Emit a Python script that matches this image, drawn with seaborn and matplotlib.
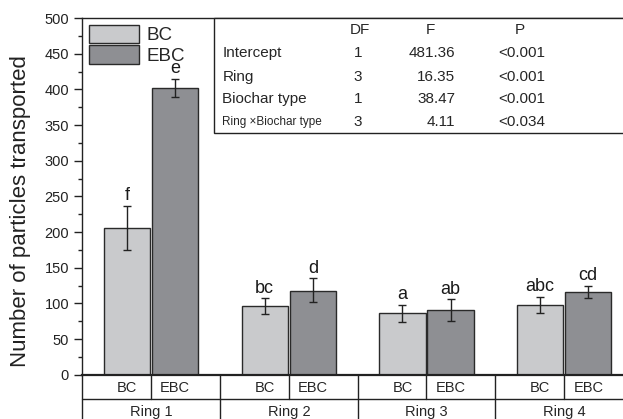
import numpy as np
import pandas as pd
import matplotlib
matplotlib.use("Agg")
import matplotlib.pyplot as plt
import matplotlib.transforms as mtransforms
from matplotlib.patches import Rectangle
from matplotlib.lines import Line2D
from matplotlib.ticker import MultipleLocator
import seaborn as sns

# ---------------- data ----------------
rings = ["Ring 1", "Ring 2", "Ring 3", "Ring 4"]
types = ["BC", "EBC"]
bc_mean = [205, 96, 86, 98]
ebc_mean = [402, 118, 91, 116]
bc_low = [175, 85, 74, 86]
bc_high = [237, 107, 98, 109]
ebc_low = [389, 102, 75, 107]
ebc_high = [415, 135, 106, 125]
bc_letters = ["f", "bc", "a", "abc"]
ebc_letters = ["e", "d", "ab", "cd"]

anova_terms = ["Intercept", "Ring", "Biochar type", "Ring \u00d7Biochar type"]
anova_df = ["1", "3", "1", "3"]
anova_f = ["481.36", "16.35", "38.47", "4.11"]
anova_p = ["<0.001", "<0.001", "<0.001", "<0.034"]

ylabel = "Number of particles transported"
yticks = [0, 50, 100, 150, 200, 250, 300, 350, 400, 450, 500]

# ---------------- style ----------------
sns.set_style("ticks")
plt.rcParams["font.family"] = ["Liberation Sans", "DejaVu Sans"]
plt.rcParams["axes.edgecolor"] = "#222222"

df = pd.DataFrame({
    "Ring": rings * 2,
    "Type": ["BC"] * 4 + ["EBC"] * 4,
    "Value": bc_mean + ebc_mean,
    "Low": bc_low + ebc_low,
    "High": bc_high + ebc_high,
    "Letter": bc_letters + ebc_letters,
})

fig = plt.figure(figsize=(6.23, 4.19), dpi=100)
ax_left = 82.3 / 623
ax_right = 633 / 623
ax_bottom = 1 - 374.7 / 419
ax_top = 1 - 18 / 419
ax = fig.add_axes([ax_left, ax_bottom, ax_right - ax_left, ax_top - ax_bottom])

palette = {"BC": "#c9cacc", "EBC": "#8e8f93"}
sns.barplot(data=df, x="Ring", y="Value", hue="Type", order=rings, hue_order=types,
            palette=palette, width=0.7, gap=0.04, errorbar=None, edgecolor="#2a2a2a",
            linewidth=1.0, saturation=1, ax=ax, legend=True)


def fx(px):
    return (px - 82.3) / (633 - 82.3)


def fy(py):
    return (374.7 - py) / (374.7 - 18)


ax.set_ylim(0, 500)
ax.set_xlim(-0.5, 3.5)
ax.set_yticks(yticks)
ax.yaxis.set_minor_locator(MultipleLocator(25))
ax.tick_params(axis="y", which="major", length=6, width=1, labelsize=10.5, pad=3.5, colors="#222222")
ax.tick_params(axis="y", which="minor", length=3, width=1, colors="#222222")
ax.tick_params(axis="x", length=0, labelbottom=False)
ax.set_xlabel("")
ax.set_ylabel(ylabel, fontsize=16, color="#222222")
ax.yaxis.set_label_coords(fx(31), fy(211.5))
ax.spines["bottom"].set_linewidth(1.6)
ax.spines["left"].set_linewidth(1.0)
ax.spines["top"].set_linewidth(1.0)
ax.spines["right"].set_visible(False)

# error bars and letters, using the bar positions computed by seaborn
bars = [p for p in ax.patches if isinstance(p, Rectangle) and p.get_width() > 0][:8]
bars_sorted = sorted(bars, key=lambda p: p.get_x())
for i, p in enumerate(bars_sorted):
    ring_i = i // 2
    t = types[i % 2]
    row = df[(df.Ring == rings[ring_i]) & (df.Type == t)].iloc[0]
    xc = p.get_x() + p.get_width() / 2
    ax.errorbar([xc], [row.Value],
                yerr=[[row.Value - row.Low], [row.High - row.Value]],
                fmt="none", ecolor="#222222", elinewidth=1.0, capsize=3, capthick=1.0, zorder=5)
    ax.annotate(row.Letter, (xc, row.High), xytext=(0, 4), textcoords="offset points",
                ha="center", va="baseline", fontsize=13, color="#1a1a1a", zorder=6)

# legend
handles, labels = ax.get_legend_handles_labels()
leg = ax.legend(handles, labels, loc="upper left", frameon=False, fontsize=13.5,
                handlelength=2.7, handleheight=1.15, handletextpad=0.4,
                labelspacing=0.05, borderaxespad=0.25, borderpad=0.1)
for h in leg.legend_handles:
    h.set_edgecolor("#2a2a2a")
    h.set_linewidth(1.0)

# ANOVA table inset
box = Rectangle((fx(214), fy(133)), 1.2, 1 - fy(133), transform=ax.transAxes,
                fill=True, facecolor="white", edgecolor="#222222", linewidth=1.0,
                clip_on=False, zorder=7)
ax.add_patch(box)
hy = fy(29.5)
ax.text(fx(360), hy, "DF", transform=ax.transAxes, ha="center", va="center", fontsize=11, zorder=8)
ax.text(fx(430), hy, "F", transform=ax.transAxes, ha="center", va="center", fontsize=11, zorder=8)
ax.text(fx(520), hy, "P", transform=ax.transAxes, ha="center", va="center", fontsize=11, zorder=8)
row_y = [53.3, 76.7, 99, 121.7]
for k in range(len(anova_terms)):
    yy = fy(row_y[k])
    fs = 11 if k < 3 else 8.5
    ax.text(fx(222.5), yy, anova_terms[k], transform=ax.transAxes, ha="left", va="center",
            fontsize=fs, zorder=8)
    ax.text(fx(358), yy, anova_df[k], transform=ax.transAxes, ha="center", va="center",
            fontsize=11, zorder=8)
    ax.text(fx(455), yy, anova_f[k], transform=ax.transAxes, ha="right", va="center",
            fontsize=11, zorder=8)
    ax.text(fx(498), yy, anova_p[k], transform=ax.transAxes, ha="left", va="center",
            fontsize=11, zorder=8)

# categorical axis table below the plot
row1 = fy(399)
line_kw = dict(transform=ax.transAxes, color="#222222", linewidth=1.0, clip_on=False)
ax.add_line(Line2D([0, 1.2], [row1, row1], **line_kw))
for b in [0, 0.25, 0.5, 0.75, 1.0]:
    ax.add_line(Line2D([b, b], [0, -0.3], **line_kw))
for b in [0.125, 0.375, 0.625, 0.875]:
    ax.add_line(Line2D([b, b], [0, row1], **line_kw))

trans = mtransforms.blended_transform_factory(ax.transData, ax.transAxes)
for i, p in enumerate(bars_sorted):
    xc = p.get_x() + p.get_width() / 2
    ax.text(xc, fy(387.5), types[i % 2], transform=trans, ha="center", va="center",
            fontsize=10.5, clip_on=False)
for j, r in enumerate(rings):
    ax.text(j, fy(411.5), r, transform=trans, ha="center", va="center", fontsize=10.5,
            clip_on=False)

fig.savefig("out.png", dpi=100)
